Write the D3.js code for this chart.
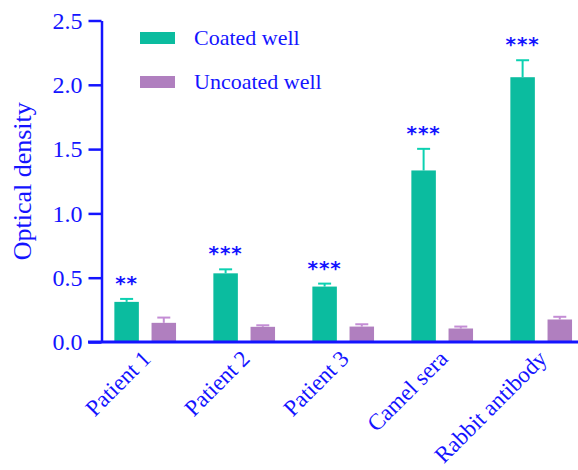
<!DOCTYPE html>
<html>
<head>
<meta charset="utf-8">
<script src="https://cdn.jsdelivr.net/npm/d3@7"></script>
<style>
  body { margin: 0; background: #fff; }
  svg text { font-family: "Liberation Serif", "Times New Roman", serif; fill: #1414ff; }
</style>
</head>
<body>
<svg id="chart" width="578" height="470"></svg>
<script>
// data
const categories = ["Patient 1", "Patient 2", "Patient 3", "Camel sera", "Rabbit antibody"];
const seriesNames = ["Coated well", "Uncoated well"];
const coated = [0.312, 0.534, 0.431, 1.334, 2.059];
const coatedErr = [0.023, 0.031, 0.023, 0.168, 0.132];
const uncoated = [0.149, 0.118, 0.120, 0.105, 0.175];
const uncoatedErr = [0.041, 0.012, 0.018, 0.015, 0.021];
const stars = ["**", "***", "***", "***", "***"];
const yTicks = [0, 0.5, 1.0, 1.5, 2.0, 2.5];

const colors = ["#0bbc9f", "#b07fbf"];
const blue = "#1414ff";

const svg = d3.select("#chart");
const margin = {top: 20.5, left: 101.5, bottom: 342};

const y = d3.scaleLinear().domain([0, 2.5]).range([margin.bottom, margin.top]);
const x0 = d3.scaleBand().domain(categories).range([95.7, 590.7])
    .paddingInner(0.377).paddingOuter(0.1885);
const x1 = d3.scaleBand().domain(seriesNames).range([0, x0.bandwidth()]).padding(0);

const rows = categories.map((c, i) => ({
    cat: c,
    bars: [
        {s: seriesNames[0], v: coated[i], e: coatedErr[i], k: 0},
        {s: seriesNames[1], v: uncoated[i], e: uncoatedErr[i], k: 1}
    ],
    star: stars[i]
}));

const barW = 24.5;
const barX = d => d.k === 0 ? 0 : x1.bandwidth() * 2 - barW;

const groups = svg.selectAll(".grp")
    .data(rows)
    .enter().append("g")
    .attr("class", "grp")
    .attr("transform", d => `translate(${x0(d.cat)},0)`);

const bars = groups.selectAll(".bar")
    .data(d => d.bars)
    .enter().append("g");

// error bars (upper only)
bars.append("line")
    .attr("x1", d => barX(d) + barW / 2)
    .attr("x2", d => barX(d) + barW / 2)
    .attr("y1", d => y(d.v))
    .attr("y2", d => y(d.v + d.e))
    .attr("stroke", d => d3.color(colors[d.k]).brighter(0.3))
    .attr("stroke-width", 2);
bars.append("line")
    .attr("x1", d => barX(d) + barW / 2 - 6.5)
    .attr("x2", d => barX(d) + barW / 2 + 6.5)
    .attr("y1", d => y(d.v + d.e))
    .attr("y2", d => y(d.v + d.e))
    .attr("stroke", d => d3.color(colors[d.k]).brighter(0.3))
    .attr("stroke-width", 2);

bars.append("rect")
    .attr("x", barX)
    .attr("width", barW)
    .attr("y", d => y(d.v))
    .attr("height", d => y(0) - y(d.v))
    .attr("fill", d => colors[d.k]);

// significance stars above the coated bar
groups.append("text")
    .attr("x", barW / 2)
    .attr("y", (d, i) => y(coated[i] + coatedErr[i]) - 9)
    .attr("text-anchor", "middle")
    .style("font-family", "DejaVu Sans, sans-serif")
    .style("font-size", "20px")
    .style("font-weight", "bold")
    .style("letter-spacing", "1px")
    .text(d => d.star);

// y axis
const yAxis = d3.axisLeft(y).tickValues(yTicks).tickFormat(d3.format(".1f"))
    .tickSize(13).tickSizeOuter(0).tickPadding(6);
const gy = svg.append("g").attr("transform", `translate(${margin.left},0)`).call(yAxis);
gy.select(".domain").attr("stroke", blue).attr("stroke-width", 2.5);
gy.selectAll(".tick line").attr("stroke", blue).attr("stroke-width", 2.5);
gy.selectAll(".tick text").style("font-size", "24px").attr("fill", blue)
    .style("font-family", "Liberation Serif, serif");

// x axis baseline
svg.append("line")
    .attr("x1", 88).attr("x2", 578)
    .attr("y1", y(0)).attr("y2", y(0))
    .attr("stroke", blue).attr("stroke-width", 3);

// x labels
svg.selectAll(".xlab")
    .data(categories)
    .enter().append("text")
    .attr("class", "xlab")
    .attr("text-anchor", "end")
    .attr("transform", d => `translate(${x0(d) + x0.bandwidth() / 2 + 7},${y(0) + 18}) rotate(-45)`)
    .style("font-size", "23px")
    .text(d => d);

// y title
svg.append("text")
    .attr("transform", `translate(31,${(y(0) + y(2.5)) / 2}) rotate(-90)`)
    .attr("text-anchor", "middle")
    .style("font-size", "26px")
    .text("Optical density");

// legend
const legend = svg.selectAll(".leg")
    .data(seriesNames)
    .enter().append("g")
    .attr("transform", (d, i) => `translate(140,${32 + i * 44})`);
legend.append("rect").attr("width", 35).attr("height", 12).attr("fill", (d, i) => colors[i]);
legend.append("text").attr("x", 54).attr("y", 13).style("font-size", "22px").text(d => d);
</script>
</body>
</html>
